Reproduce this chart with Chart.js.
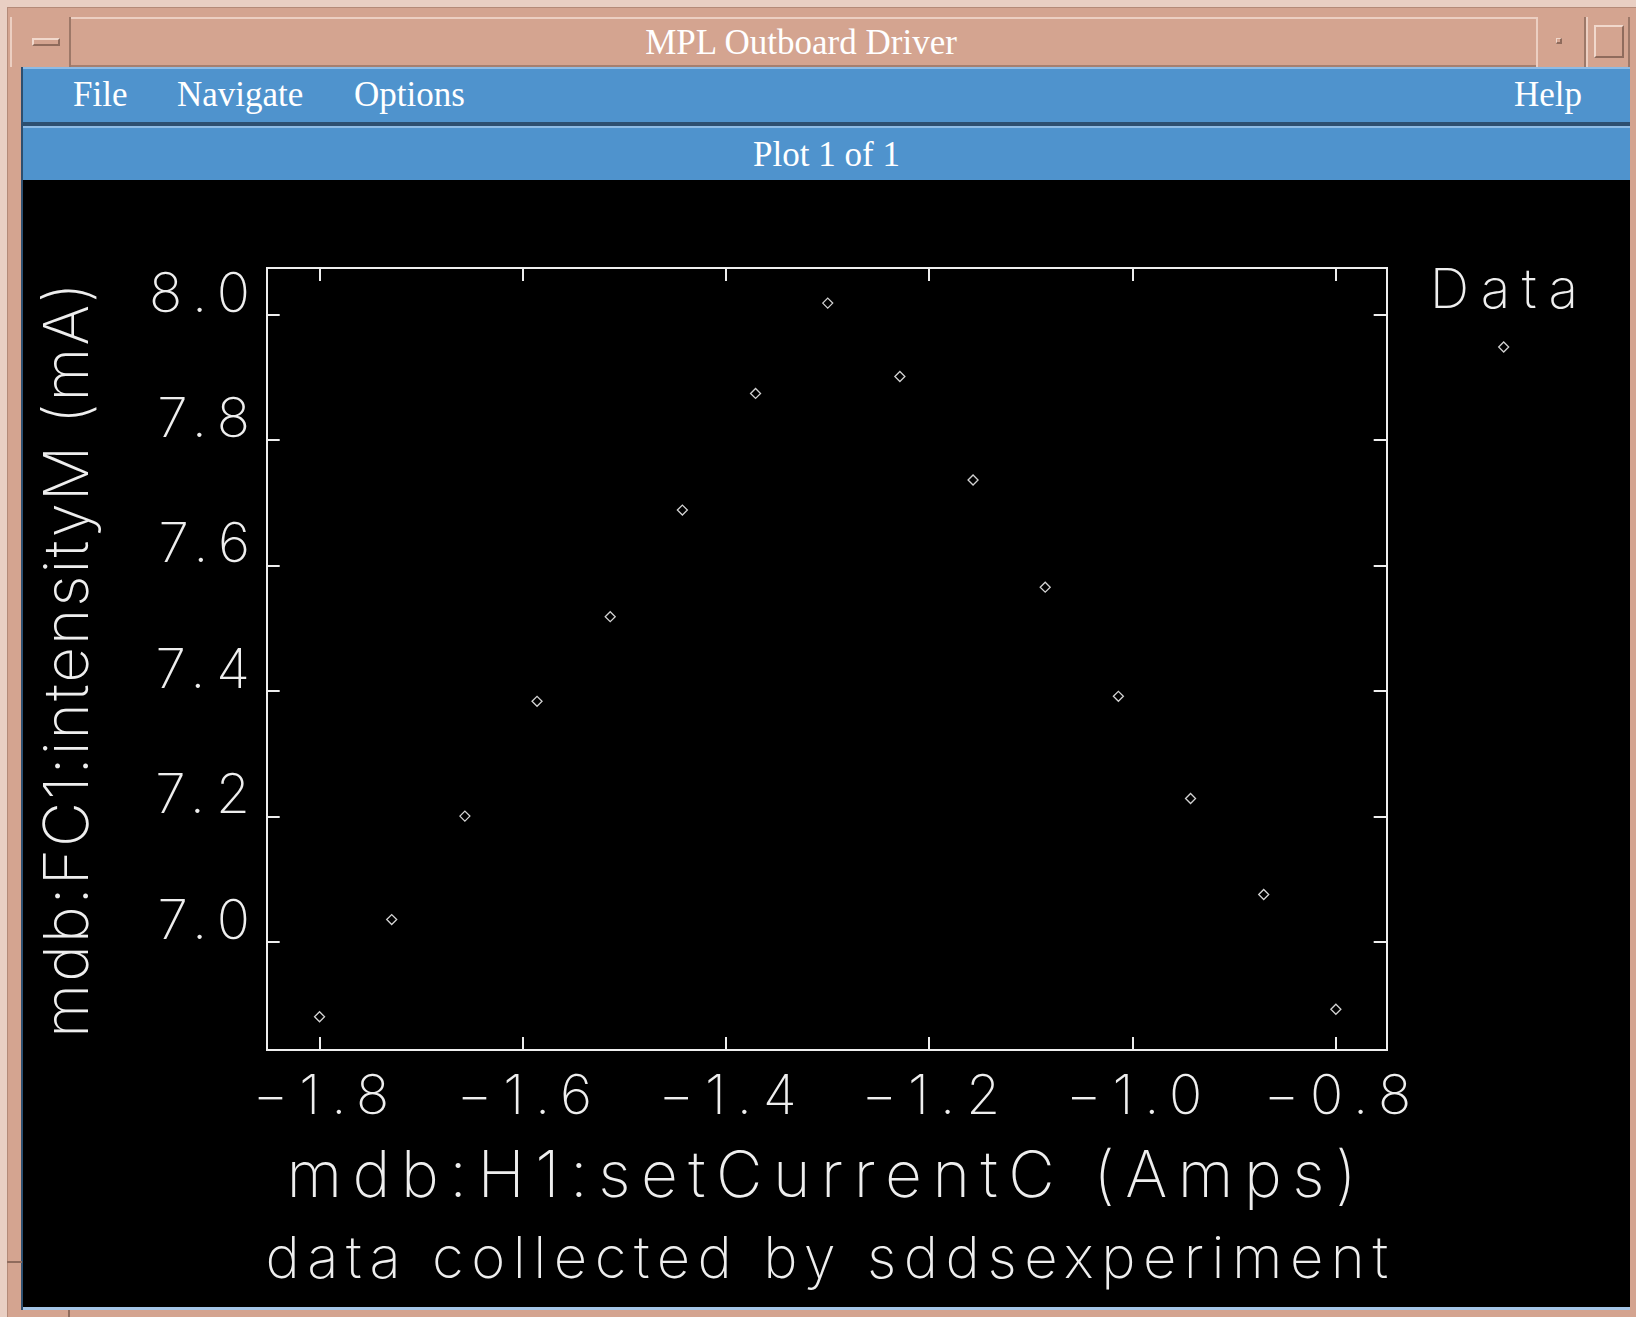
<!DOCTYPE html>
<html>
<head>
<meta charset="utf-8">
<title>MPL Outboard Driver</title>
<script src="https://cdn.jsdelivr.net/npm/chart.js"></script>
<style>
  html, body { margin: 0; padding: 0; width: 1636px; height: 1317px; overflow: hidden; background: #e9cfc3; }
  .abs { position: absolute; box-sizing: border-box; }
  .serif { font-family: 'Liberation Serif', 'DejaVu Serif', serif; color: #ffffff; font-size: 35px; line-height: 1; white-space: nowrap; }
  #frame { left: 7px; top: 7px; width: 1629px; height: 1310px; background: #d4a490; border-top: 1px solid #b48a78; border-left: 1px solid #b48a78; }
  #titlebar { left: 10px; top: 17px; width: 1620px; height: 50px; background: #d4a490; border-top: 2px solid #eccfc2; border-bottom: 2px solid #a57f6f; }
  .tbtn { top: 17px; height: 50px; border-left: 2px solid #eccfc2; border-right: 2px solid #9d7868; background: #d4a490; }
  #plotbar, #menubar { left: 23px; width: 1607px; background: #4f93cd; border-top: 2px solid #8dbbe5; }
  #menubar { top: 67px; height: 55px; }
  #sep { left: 23px; top: 122px; width: 1607px; height: 4px; background: #2d4f70; }
  #plotbar { top: 126px; height: 54px; }
  #plotarea { left: 23px; top: 180px; width: 1607px; height: 1127px; background: #000000; }
  #bottomline { left: 23px; top: 1307px; width: 1607px; height: 3px; background: #a3c4e6; }
  #leftline { left: 21px; top: 67px; width: 2px; height: 1243px; background: #2d4f70; }
  canvas { position: absolute; left: 23px; top: 180px; }
</style>
</head>
<body>
<div class="abs" id="frame"></div>
<div class="abs" id="titlebar"></div>
<div class="abs tbtn" style="left:10px;width:61px;"></div>
<div class="abs" style="left:32px;top:38px;width:28px;height:8px;background:#d4a490;border-top:2px solid #f1d8cc;border-left:2px solid #f1d8cc;border-bottom:2px solid #8f6b5c;border-right:2px solid #8f6b5c;"></div>
<div class="abs tbtn" style="left:1536px;width:50px;"></div>
<div class="abs" style="left:1556px;top:38px;width:6px;height:6px;border-top:1px solid #f1d8cc;border-left:1px solid #f1d8cc;border-bottom:2px solid #8f6b5c;border-right:2px solid #8f6b5c;"></div>
<div class="abs tbtn" style="left:1586px;width:44px;"></div>
<div class="abs" style="left:1594px;top:25px;width:30px;height:33px;border-top:2px solid #f1d8cc;border-left:2px solid #f1d8cc;border-bottom:2px solid #8f6b5c;border-right:2px solid #8f6b5c;"></div>
<div class="abs serif" style="left:0;width:1602px;top:25px;text-align:center;">MPL Outboard Driver</div>

<div class="abs" id="menubar"></div>
<div class="abs serif" style="left:73px;top:77px;">File</div>
<div class="abs serif" style="left:177px;top:77px;">Navigate</div>
<div class="abs serif" style="left:354px;top:77px;">Options</div>
<div class="abs serif" style="left:1514px;top:77px;">Help</div>
<div class="abs" id="sep"></div>
<div class="abs" id="plotbar"></div>
<div class="abs serif" style="left:23px;width:1607px;top:137px;text-align:center;">Plot 1 of 1</div>
<div class="abs" id="plotarea"></div>
<div class="abs" id="bottomline"></div>
<div class="abs" id="leftline"></div>
<div class="abs" style="left:7px;top:1261px;width:15px;height:2px;background:#8f6b5c;"></div>
<div class="abs" style="left:68px;top:1310px;width:2px;height:7px;background:#8f6b5c;"></div>

<canvas id="plot" width="1607" height="1127"></canvas>

<script>
// Scan of the H1 corrector current against the FC1 intensity readback
const xValues = [-1.800, -1.729, -1.657, -1.586, -1.514, -1.443, -1.371, -1.300,
                 -1.229, -1.157, -1.086, -1.014, -0.943, -0.871, -0.800];
const yValues = [6.881, 7.036, 7.201, 7.384, 7.519, 7.689, 7.875, 8.019,
                 7.902, 7.737, 7.566, 7.392, 7.229, 7.076, 6.893];

const xTickValues = [-1.8, -1.6, -1.4, -1.2, -1.0, -0.8];
const yTickValues = [7.0, 7.2, 7.4, 7.6, 7.8, 8.0];
const xRange = [-1.852, -0.750];
const yRange = [6.828, 8.075];

const seriesLabel = 'Data';
const xTitle = 'mdb:H1:setCurrentC (Amps)';
const yTitle = 'mdb:FC1:intensityM (mA)';
const footnote = 'data collected by sddsexperiment';

const INK = '#eeeeee';
const FAMILY = "Inter, 'DejaVu Sans', sans-serif";

// letter tracking per piece of text (canvas letterSpacing)
const tracking = {
  x: { title: '10.5px', labels: '11px' },
  y: { title: '2px', labels: '11px' },
  legend: '11.5px',
  footnote: '7.5px'
};

const fmt = v => (v < 0 ? '\u2212' : '') + Math.abs(v).toFixed(1);
const fixedTicks = values => scale => { scale.ticks = values.map(v => ({ value: v })); };

const tickGrid = { display: true, drawOnChartArea: false, drawTicks: true, tickLength: -13, color: INK, lineWidth: 2 };
const frameBorder = { display: true, color: INK, width: 2 };
const tickFont = { family: FAMILY, size: 55, weight: 200 };

const trackingPlugin = {
  id: 'tracking',
  beforeDraw(chart) {
    const ctx = chart.ctx;
    ['x', 'y'].forEach(id => {
      const scale = chart.scales[id];
      if (!scale || scale.$tracked) return;
      const t = tracking[id];
      const drawTitle = scale.drawTitle;
      const drawLabels = scale.drawLabels;
      scale.drawTitle = function (...args) { ctx.letterSpacing = t.title; drawTitle.apply(this, args); ctx.letterSpacing = '0px'; };
      scale.drawLabels = function (...args) { ctx.letterSpacing = t.labels; drawLabels.apply(this, args); ctx.letterSpacing = '0px'; };
      scale.$tracked = true;
    });
  }
};

// series key (name above a sample marker, right of the frame) and the footnote line
const annotations = {
  id: 'annotations',
  afterDraw(chart) {
    const ds = chart.data.datasets[0];
    const area = chart.chartArea;
    const ctx = chart.ctx;
    const cx = area.right + 117;
    ctx.save();
    ctx.fillStyle = INK;
    ctx.textAlign = 'center';
    ctx.textBaseline = 'alphabetic';

    ctx.letterSpacing = tracking.legend;
    ctx.font = `200 55px ${FAMILY}`;
    ctx.fillText(ds.label, cx + 6, area.top + 40);

    ctx.letterSpacing = tracking.footnote;
    ctx.font = `200 58px ${FAMILY}`;
    ctx.fillText(footnote, chart.width / 2 + 4, chart.height - 29);

    ctx.letterSpacing = '0px';
    ctx.strokeStyle = ds.borderColor;
    ctx.fillStyle = 'rgba(0,0,0,0)';
    ctx.lineWidth = ds.borderWidth;
    Chart.helpers.drawPoint(ctx, { pointStyle: ds.pointStyle, radius: ds.pointRadius, borderWidth: ds.borderWidth, rotation: 0 }, cx, area.top + 79);
    ctx.restore();
  }
};

new Chart(document.getElementById('plot'), {
  type: 'scatter',
  data: {
    datasets: [{
      label: seriesLabel,
      data: xValues.map((x, i) => ({ x, y: yValues[i] })),
      pointStyle: 'rectRot',
      pointRadius: 5,
      pointHoverRadius: 5,
      borderColor: '#d2d2d2',
      backgroundColor: 'rgba(0,0,0,0)',
      borderWidth: 1.3,
      showLine: false,
      xAxisID: 'x',
      yAxisID: 'y'
    }]
  },
  options: {
    responsive: false,
    devicePixelRatio: 1,
    animation: false,
    events: [],
    layout: { padding: { left: 0, top: 88, right: 0, bottom: 87 } },
    scales: {
      x: {
        type: 'linear', position: 'bottom', min: xRange[0], max: xRange[1],
        afterBuildTicks: fixedTicks(xTickValues),
        afterFit: s => { s.height = 170; },
        grid: tickGrid, border: frameBorder,
        ticks: { display: true, color: INK, font: tickFont, padding: 27, labelOffset: 7, maxRotation: 0, autoSkip: false, callback: fmt },
        title: { display: true, text: xTitle, color: INK, font: { family: FAMILY, size: 64, weight: 200, lineHeight: 1.2 }, padding: { top: 0, bottom: 4 } }
      },
      y: {
        type: 'linear', position: 'left', min: yRange[0], max: yRange[1],
        afterBuildTicks: fixedTicks(yTickValues),
        afterFit: s => { s.width = 243.7; },
        grid: tickGrid, border: frameBorder,
        ticks: { display: true, color: INK, font: tickFont, padding: 18.7, labelOffset: -20, autoSkip: false, callback: fmt },
        title: { display: true, text: yTitle, color: INK, font: { family: FAMILY, size: 62, weight: 200, lineHeight: 1.2 }, padding: { top: 9, bottom: 0 } }
      },
      x2: {
        type: 'linear', position: 'top', min: xRange[0], max: xRange[1],
        afterBuildTicks: fixedTicks(xTickValues),
        afterFit: s => { s.height = 0; },
        grid: tickGrid, border: frameBorder,
        ticks: { display: false }
      },
      y2: {
        type: 'linear', position: 'right', min: yRange[0], max: yRange[1],
        afterBuildTicks: fixedTicks(yTickValues),
        afterFit: s => { s.width = 243.3; },
        grid: tickGrid, border: frameBorder,
        ticks: { display: false }
      }
    },
    plugins: {
      legend: { display: false },
      tooltip: { enabled: false },
      title: { display: false },
      subtitle: { display: false }
    }
  },
  plugins: [trackingPlugin, annotations]
});
</script>
</body>
</html>
